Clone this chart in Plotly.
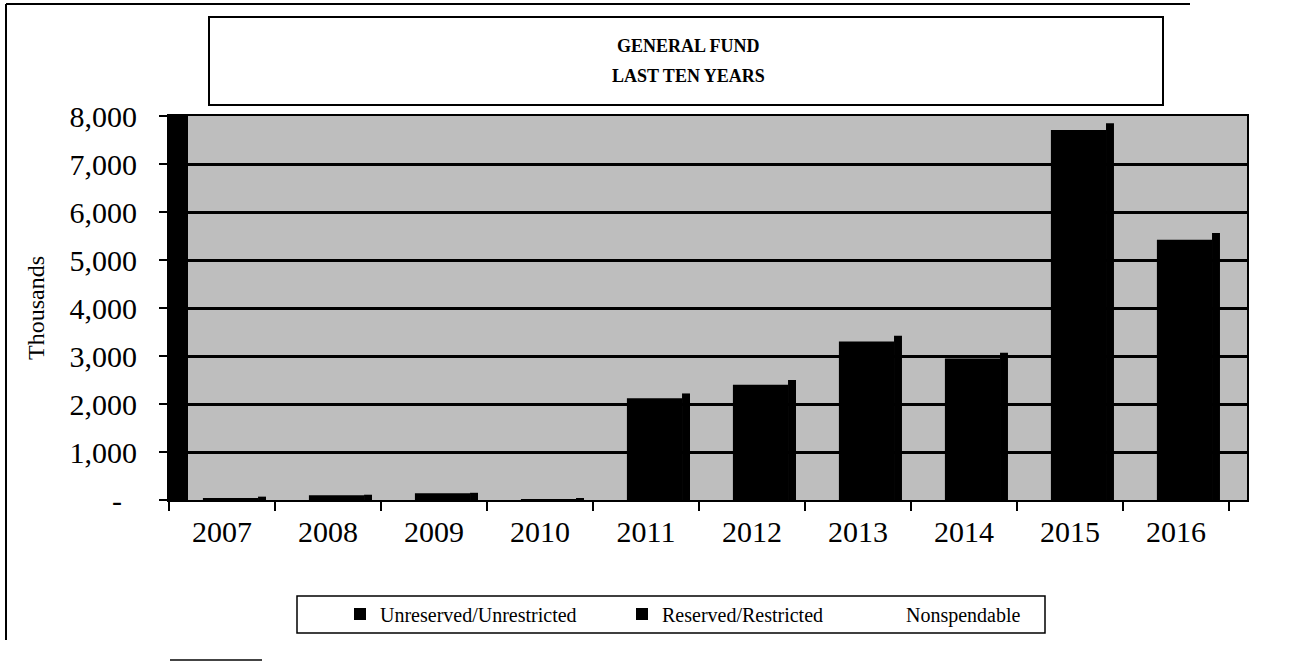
import plotly.graph_objects as go

years = ["2007", "2008", "2009", "2010", "2011", "2012", "2013", "2014", "2015", "2016"]
unreserved = [40, 100, 140, 20, 2120, 2400, 3300, 2950, 7710, 5420]
reserved = [70, 110, 150, 30, 2220, 2500, 3420, 3070, 7850, 5560]
nonspendable = [0, 0, 0, 0, 0, 0, 0, 0, 0, 0]
ytickvals = [0, 1000, 2000, 3000, 4000, 5000, 6000, 7000, 8000]
yticktext = ["-\u00a0\u00a0", "1,000", "2,000", "3,000", "4,000", "5,000", "6,000", "7,000", "8,000"]

SERIF = "Liberation Serif, Times New Roman, serif"
W, H = 1299, 662
L, R, T, B = 169, 52, 116, 162
PW, PH = W - L - R, H - T - B


def px(x):
    return (x - L) / PW


def py(y):
    return (H - B - y) / PH


fig = go.Figure()
fig.add_trace(go.Bar(x=years, y=reserved, name="Reserved/Restricted", offset=0.34, width=0.075,
                     marker=dict(color="black", line=dict(width=0)), legend="legend2"))
fig.add_trace(go.Bar(x=years, y=unreserved, name="Unreserved/Unrestricted", offset=-0.18, width=0.52,
                     marker=dict(color="black", line=dict(width=0)), legend="legend"))
fig.add_trace(go.Bar(x=years, y=nonspendable, name="Nonspendable", offset=0.41, width=0.05,
                     marker=dict(color="rgba(0,0,0,0)", line=dict(width=0)), legend="legend3"))

leg_common = dict(orientation="h", font=dict(family=SERIF, size=20, color="black"),
                  bgcolor="rgba(0,0,0,0)", borderwidth=0, yanchor="middle", xanchor="left",
                  itemwidth=30, itemclick=False)
fig.update_layout(
    width=W, height=H,
    margin=dict(l=L, r=R, t=T, b=B, pad=0),
    paper_bgcolor="white",
    plot_bgcolor="#bebebe",
    barmode="overlay",
    showlegend=True,
    legend=dict(x=px(340), y=py(614), **leg_common),
    legend2=dict(x=px(622), y=py(614), **leg_common),
    legend3=dict(x=px(866), y=py(614), **leg_common),
    xaxis=dict(type="category", range=[-0.5, 9.67], showgrid=False,
               showline=True, linecolor="black", linewidth=2, mirror=True,
               ticks="outside", tickson="boundaries", ticklen=9, tickwidth=2, tickcolor="black",
               tickfont=dict(family=SERIF, size=30, color="black"), ticklabelstandoff=4),
    yaxis=dict(range=[0, 8000], tickvals=ytickvals, ticktext=yticktext,
               showgrid=True, gridcolor="black", gridwidth=3, zeroline=False,
               showline=True, linecolor="black", linewidth=2, mirror=True,
               ticks="outside", ticklen=8, tickwidth=2, tickcolor="black",
               tickfont=dict(family=SERIF, size=30, color="black"), ticklabelstandoff=16),
)

shapes = []
# left black strip inside plot
shapes.append(dict(type="rect", xref="x domain", yref="y domain", x0=0, x1=19 / PW, y0=0, y1=1,
                   fillcolor="black", line=dict(width=0), layer="above"))
# title box
shapes.append(dict(type="rect", xref="paper", yref="paper", x0=px(209), x1=px(1163), y0=py(17), y1=py(105),
                   line=dict(color="black", width=2), fillcolor="white"))
# legend box
shapes.append(dict(type="rect", xref="paper", yref="paper", x0=px(297), x1=px(1045), y0=py(596), y1=py(633),
                   line=dict(color="black", width=1.5), fillcolor="rgba(0,0,0,0)"))
# outer frame lines
shapes.append(dict(type="line", xref="paper", yref="paper", x0=px(6), x1=px(1190), y0=py(4), y1=py(4),
                   line=dict(color="black", width=2)))
shapes.append(dict(type="line", xref="paper", yref="paper", x0=px(6), x1=px(6), y0=py(4), y1=py(640),
                   line=dict(color="black", width=2)))
shapes.append(dict(type="line", xref="paper", yref="paper", x0=px(170), x1=px(262), y0=py(660), y1=py(660),
                   line=dict(color="#444444", width=2)))
fig.update_layout(shapes=shapes)

fig.add_annotation(text="<b>GENERAL FUND</b>", xref="paper", yref="paper", x=px(688), y=py(46),
                   showarrow=False, font=dict(family=SERIF, size=18, color="black"),
                   xanchor="center", yanchor="middle")
fig.add_annotation(text="<b>LAST TEN YEARS</b>", xref="paper", yref="paper", x=px(688), y=py(76),
                   showarrow=False, font=dict(family=SERIF, size=18, color="black"),
                   xanchor="center", yanchor="middle")
fig.add_annotation(text="Thousands", xref="paper", yref="paper", x=px(36), y=py(308),
                   showarrow=False, textangle=-90, font=dict(family=SERIF, size=24, color="black"),
                   xanchor="center", yanchor="middle")

fig.write_html("out.html")
